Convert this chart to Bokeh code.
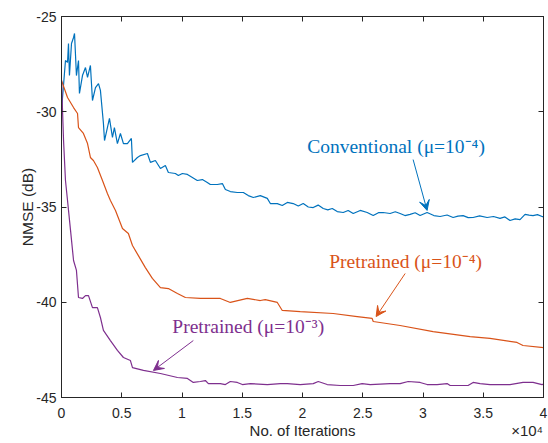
from bokeh.plotting import figure
from bokeh.models import (Range1d, LinearAxis, FixedTicker, Label, Arrow, VeeHead,
                          CustomJSTickFormatter)
from bokeh.embed import file_html
from bokeh.resources import INLINE

# NMSE learning curves (dB) versus iteration count
conv_iter = [0, 330, 500, 580, 660, 830, 1000, 1080, 1240, 1410, 1490, 1740, 1990, 2160,
             2400, 2570, 2820, 3070, 3230, 3480, 3570, 3810, 3980, 4230, 4390, 4640, 4890,
             5140, 5470, 5800, 5890, 6300, 6550, 7130, 7380, 7790, 8210, 8620, 8870, 9450,
             9700, 10030, 10450, 10860, 11270, 11690, 12100, 12350, 12930, 13350, 13600,
             14010, 14590, 15090, 15500, 15920, 16500, 17080, 17330, 17910, 18320, 18740,
             19230, 19650, 20060, 20480, 20890, 21300, 21720, 22100, 22470, 22880, 23380,
             23790, 24210, 24790, 25370, 25870, 26300, 26690, 27270, 27700, 28100, 28500,
             28930, 29350, 29760, 30340, 30900, 31420, 32000, 32500, 32900, 33330, 33750,
             34160, 34700, 35320, 35850, 36390, 36800, 37220, 37650, 38050, 38470, 38800,
             39130, 39500, 39880, 40000]
conv_nmse = [-29.93, -27.31, -27.41, -26.42, -28.10, -26.42, -26.10, -25.89, -28.10, -27.31,
             -29.04, -28.10, -27.68, -28.20, -27.57, -29.41, -28.73, -28.52, -28.88, -30.62,
             -31.51, -30.83, -30.35, -31.35, -30.83, -31.67, -31.14, -31.67, -31.67, -31.40,
             -32.66, -32.40, -32.30, -32.19, -32.66, -32.56, -32.98, -32.82, -33.19, -33.24,
             -33.35, -33.24, -33.29, -33.45, -33.61, -33.56, -33.71, -33.82, -33.82, -33.77,
             -34.08, -34.19, -34.24, -34.24, -34.40, -34.50, -34.40, -34.55, -34.82, -34.82,
             -34.92, -34.76, -34.82, -34.95, -34.82, -35.00, -35.03, -34.90, -35.08, -35.15,
             -35.08, -35.24, -35.29, -35.18, -35.34, -35.18, -35.29, -35.45, -35.30, -35.29,
             -35.34, -35.25, -35.34, -35.45, -35.39, -35.30, -35.45, -35.29, -35.45, -35.50,
             -35.42, -35.55, -35.48, -35.45, -35.56, -35.55, -35.47, -35.55, -35.50, -35.60,
             -35.52, -35.71, -35.62, -35.66, -35.39, -35.43, -35.45, -35.40, -35.50, -35.50]

pre4_iter = [0, 500, 1000, 1330, 1410, 1820, 2160, 2400, 2650, 2980, 3400, 3810, 4060, 4480,
             5060, 5550, 5890, 6380, 6960, 7540, 8210, 8870, 9620, 10280, 11520, 13180,
             14010, 15420, 16500, 16910, 17910, 18320, 19810, 22550, 24540, 25780, 25870,
             28100, 30840, 33910, 35560, 37800, 38300, 40000]
pre4_nmse = [-28.36, -29.25, -29.78, -30.09, -30.83, -31.14, -31.67, -32.40, -32.56, -32.93,
             -33.61, -34.29, -34.66, -35.18, -36.13, -36.39, -37.02, -37.55, -38.18, -38.75,
             -39.23, -39.28, -39.54, -39.75, -39.80, -39.80, -40.01, -39.80, -39.91, -39.86,
             -40.01, -40.43, -40.49, -40.59, -40.75, -40.85, -41.01, -41.22, -41.54, -41.80,
             -41.90, -42.11, -42.27, -42.38]

pre3_iter = [0, 170, 330, 500, 750, 1000, 1240, 1410, 1740, 1990, 2240, 2570, 2980, 3230,
             3480, 4060, 4640, 5140, 5720, 5890, 6800, 8210, 9620, 10450, 10940, 11520,
             11940, 12190, 13180, 13600, 14010, 14590, 15010, 15670, 17080, 18160, 18740,
             19810, 20890, 21310, 22050, 23130, 24210, 24950, 25620, 27270, 28100, 28770,
             29760, 30340, 31170, 32000, 32250, 33740, 34160, 34740, 35560, 37220, 38300,
             39130, 39880, 40000]
pre3_nmse = [-28.36, -31.51, -33.61, -34.66, -36.23, -37.81, -38.33, -39.75, -39.80, -39.65,
             -39.65, -40.28, -40.28, -40.80, -41.48, -42.01, -42.53, -42.90, -43.06, -43.43,
             -43.58, -43.74, -43.95, -44.00, -44.21, -44.16, -44.11, -44.27, -44.27, -44.32,
             -44.16, -44.21, -44.32, -44.27, -44.32, -44.27, -44.27, -44.32, -44.27, -44.16,
             -44.32, -44.37, -44.37, -44.27, -44.32, -44.27, -44.27, -44.16, -44.21, -44.32,
             -44.32, -44.27, -44.37, -44.37, -44.21, -44.27, -44.32, -44.32, -44.21, -44.21,
             -44.32, -44.30]

x_ticks = [0, 5000, 10000, 15000, 20000, 25000, 30000, 35000, 40000]
x_tick_labels = ["0", "0.5", "1", "1.5", "2", "2.5", "3", "3.5", "4"]
y_ticks = [-45, -40, -35, -30, -25]
y_tick_labels = ["-45", "-40", "-35", "-30", "-25"]

BLUE = "#0072BD"
ORANGE = "#D95319"
PURPLE = "#7E2F8E"
AXIS = "#262626"
SANS = "Liberation Sans"
SERIF = "Liberation Serif"

p = figure(width=548, height=443, output_backend="svg", toolbar_location=None,
           x_range=Range1d(0, 40000), y_range=Range1d(-45, -25),
           min_border_left=61, min_border_right=5, min_border_top=16, min_border_bottom=46,
           background_fill_color="white", border_fill_color="white")
p.xgrid.visible = False
p.ygrid.visible = False
p.outline_line_color = AXIS
p.outline_line_width = 1


def style_axis(ax, ticks):
    ax.ticker = FixedTicker(ticks=ticks)
    ax.axis_line_color = AXIS
    ax.major_tick_line_color = AXIS
    ax.major_tick_in = 5
    ax.major_tick_out = 0
    ax.minor_tick_line_color = None
    ax.major_label_text_font = SANS
    ax.major_label_text_font_size = "14px"
    ax.major_label_text_color = AXIS
    ax.axis_label_text_font = SANS
    ax.axis_label_text_font_size = "15.5px"
    ax.axis_label_text_font_style = "normal"
    ax.axis_label_text_color = AXIS


style_axis(p.xaxis[0], x_ticks)
style_axis(p.yaxis[0], y_ticks)
p.xaxis[0].major_label_overrides = {t: s for t, s in zip(x_ticks, x_tick_labels)}
p.xaxis[0].major_label_standoff = 10
p.yaxis[0].major_label_overrides = {t: s for t, s in zip(y_ticks, y_tick_labels)}
p.yaxis[0].axis_label = "NMSE (dB)"
p.yaxis[0].major_label_standoff = 5
p.yaxis[0].axis_label_standoff = -3

# x title row: axis name centred, scale exponent at the right end
title_ticks = [20000, 38640]
title_texts = ["No. of Iterations", "×10⁴"]
title_axis = LinearAxis(ticker=FixedTicker(ticks=title_ticks),
                        major_label_overrides=dict(zip(title_ticks, title_texts)),
                        axis_line_color=None, major_tick_line_color=None,
                        minor_tick_line_color=None, major_tick_in=0, major_tick_out=0,
                        major_label_standoff=1, major_label_text_font=SANS,
                        major_label_text_font_size="15px", major_label_text_color=AXIS)
p.add_layout(title_axis, "below")

# tick marks on the top and right edges of the box
blank = CustomJSTickFormatter(code="return ''")
top_axis = LinearAxis(formatter=blank)
right_axis = LinearAxis(formatter=blank)
style_axis(top_axis, x_ticks)
style_axis(right_axis, y_ticks)
for ax in (top_axis, right_axis):
    ax.major_label_standoff = 0
    ax.major_label_text_font_size = "1px"
p.add_layout(top_axis, "above")
p.add_layout(right_axis, "right")

p.line(conv_iter, conv_nmse, line_color=BLUE, line_width=1.2)
p.line(pre4_iter, pre4_nmse, line_color=ORANGE, line_width=1.2)
p.line(pre3_iter, pre3_nmse, line_color=PURPLE, line_width=1.2)

# curve annotations
notes = [
    ("Conventional (μ=10⁻⁴)", 20390, -31.80, BLUE, (29180, -32.51, 30340, -35.18)),
    ("Pretrained (μ=10⁻⁴)", 22220, -37.86, ORANGE, (28520, -38.49, 26110, -40.75)),
    ("Pretrained (μ=10⁻³)", 9200, -41.27, PURPLE, (10940, -42.01, 7630, -43.58)),
]
for text, tx, ty, color, (x0, y0, x1, y1) in notes:
    p.add_layout(Label(x=tx, y=ty, text=text, text_font=SERIF, text_font_size="19.5px",
                       text_color=color, text_baseline="alphabetic", text_align="left"))
    p.add_layout(Arrow(x_start=x0, y_start=y0, x_end=x1, y_end=y1, line_color=color,
                       line_width=1,
                       end=VeeHead(size=10, fill_color=color, line_color=color, line_width=1)))

open("out.html", "w").write(file_html(p, INLINE))
